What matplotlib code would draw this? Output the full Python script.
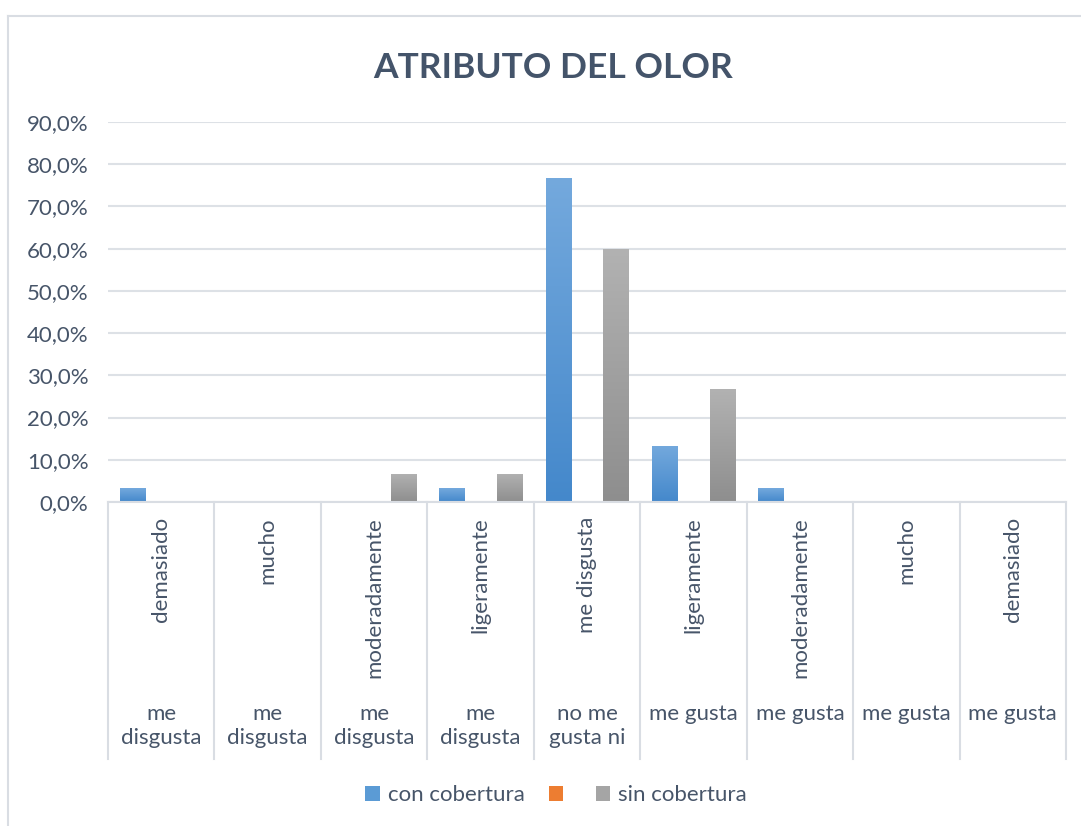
import matplotlib
matplotlib.use("Agg")
import matplotlib.pyplot as plt
import numpy as np
from matplotlib.patches import Patch
from matplotlib.lines import Line2D
from matplotlib.colors import LinearSegmentedColormap

# ---- data ----
inner_labels = ["demasiado", "mucho", "moderadamente", "ligeramente", "me disgusta",
                "ligeramente", "moderadamente", "mucho", "demasiado"]
outer_labels = ["me\ndisgusta", "me\ndisgusta", "me\ndisgusta", "me\ndisgusta", "no me\ngusta ni",
                "me gusta", "me gusta", "me gusta", "me gusta"]
con_cobertura = [3.3, 0.0, 0.0, 3.3, 76.7, 13.3, 3.3, 0.0, 0.0]
serie_vacia = [0.0, 0.0, 0.0, 0.0, 0.0, 0.0, 0.0, 0.0, 0.0]
sin_cobertura = [0.0, 0.0, 6.7, 6.7, 60.0, 26.7, 0.0, 0.0, 0.0]
series_names = ["con cobertura", "", "sin cobertura"]
title = "ATRIBUTO DEL OLOR"
yticks = [0, 10, 20, 30, 40, 50, 60, 70, 80, 90]

FONT = "Lato"
TXT = "#475569"
TITLE_C = "#44546A"
GRID = "#DDE1E6"
FS = 16

W, H = 1081, 826
fig = plt.figure(figsize=(W / 100, H / 100), dpi=100)
fig.patch.set_facecolor("white")

# chart border (left and top visible)
fig.add_artist(Line2D([8 / W, 8 / W], [0, 1 - 16 / H], color="#D9DDE3", lw=1.5))
fig.add_artist(Line2D([8 / W, 1], [1 - 16 / H, 1 - 16 / H], color="#D9DDE3", lw=1.5))

px_l, px_r, px_top, px_bot = 108, 1066, 122, 502
ax = fig.add_axes([px_l / W, 1 - px_bot / H, (px_r - px_l) / W, (px_bot - px_top) / H])
for s in ax.spines.values():
    s.set_visible(False)
ax.set_yticks(yticks)
ax.set_yticklabels([f"{v:.1f}%".replace(".", ",") for v in yticks],
                   fontsize=FS, color=TXT, family=FONT)
ax.tick_params(axis="y", length=0, pad=14)
ax.set_xticks([])
ax.grid(axis="y", color=GRID, lw=1.5)
ax.set_axisbelow(True)

x = np.arange(len(inner_labels))
bw = 0.235
offs = [-0.272, 0.0, 0.272]
tops = ["#74A9DD", "#F4A46A", "#B2B2B2"]
bots = ["#4488CB", "#ED7D31", "#8E8E8E"]
for vals, off, ct, cb in zip([con_cobertura, serie_vacia, sin_cobertura], offs, tops, bots):
    bars = ax.bar(x + off, vals, width=bw, color=cb, zorder=2, lw=0)
    cmap = LinearSegmentedColormap.from_list("g", [cb, ct])
    for b in bars:
        h = b.get_height()
        if h <= 0:
            continue
        grad = np.linspace(0, 1, 256).reshape(-1, 1)
        im = ax.imshow(grad, cmap=cmap, origin="lower", aspect="auto",
                       extent=[b.get_x(), b.get_x() + b.get_width(), 0, h], zorder=3)
        im.set_clip_path(b)
ax.set_xlim(-0.5, 8.5)
ax.set_ylim(0, 90)

# category label grid
def fy(py):
    return 1 - py / H

cat_w = (px_r - px_l) / 9
fig.add_artist(Line2D([px_l / W, px_r / W], [fy(px_bot), fy(px_bot)], color="#D9DDE3", lw=1.5))
for i in range(10):
    xx = (px_l + i * cat_w) / W
    fig.add_artist(Line2D([xx, xx], [fy(px_bot), fy(759)], color="#D9DDE3", lw=1.5))

for i in range(9):
    cx = (px_l + (i + 0.5) * cat_w) / W
    fig.text(cx, fy(517), inner_labels[i], rotation=90, ha="center", va="top",
             fontsize=FS, color=TXT, family=FONT)
    fig.text(cx, fy(704), outer_labels[i], ha="center", va="top",
             fontsize=FS, color=TXT, family=FONT, linespacing=1.22)

fig.text(553 / W, fy(68), title, ha="center", va="center", fontsize=25.5,
         fontweight="bold", color=TITLE_C, family=FONT)

handles = [Patch(facecolor=c, edgecolor="none") for c in ["#5B9BD5", "#ED7D31", "#A5A5A5"]]
leg = fig.legend(handles, series_names, loc="center", bbox_to_anchor=(556 / W, fy(795)),
                 ncol=3, frameon=False, prop={"family": FONT, "size": FS},
                 handlelength=0.65, handleheight=0.65, handletextpad=0.35, columnspacing=1.1)
for t in leg.get_texts():
    t.set_color(TXT)

fig.savefig("out.png", dpi=100)
